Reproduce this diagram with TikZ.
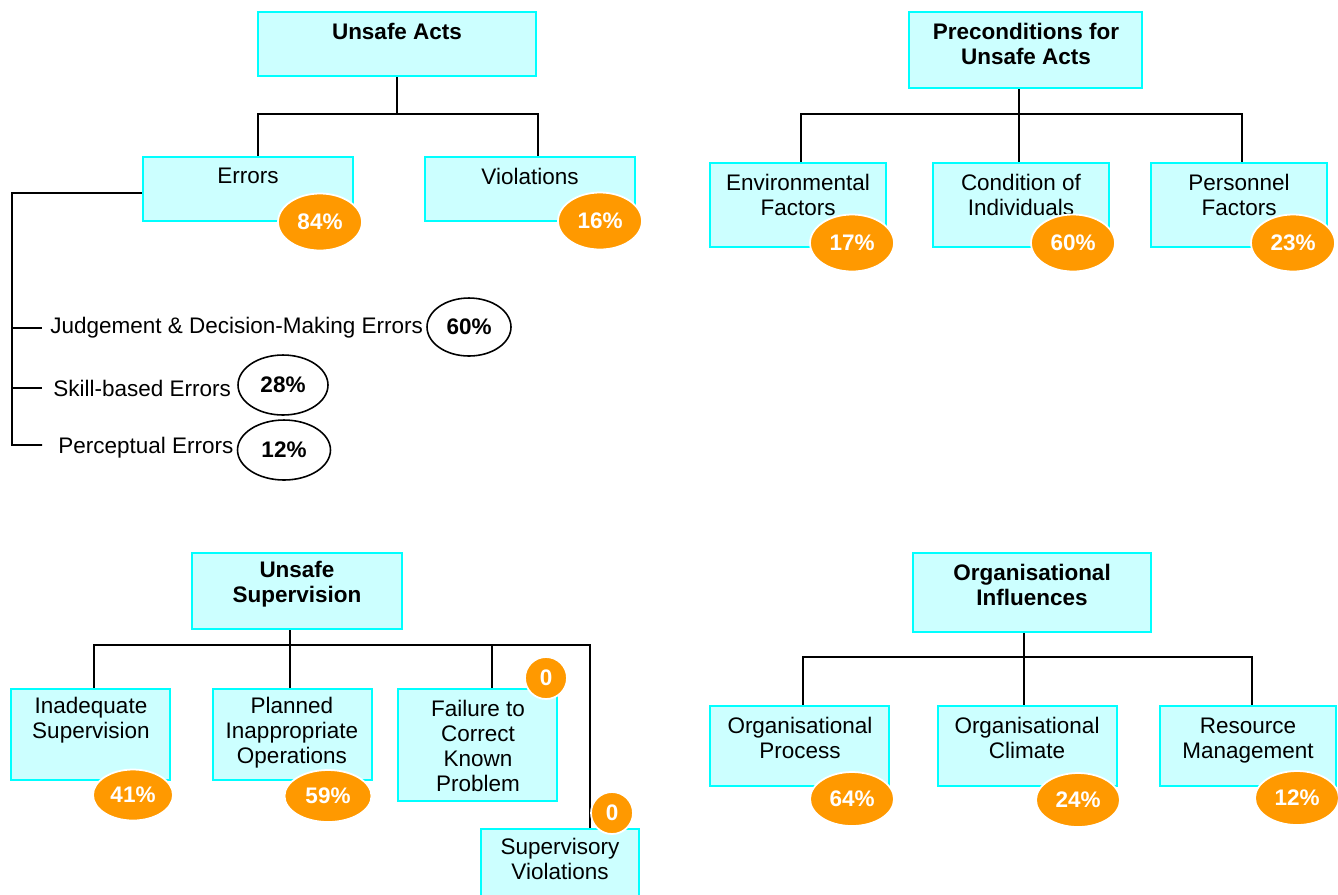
\documentclass[tikz,border=0pt]{standalone}
\usepackage{fontspec}
\setmainfont{Liberation Sans}
\usetikzlibrary{shapes.geometric,fit,positioning}
\definecolor{cfill}{HTML}{CCFFFF}
\definecolor{cline}{HTML}{00FFFF}
\definecolor{morange}{HTML}{FF9900}
\newcommand{\hfsz}{\fontsize{12.8}{14.2}\selectfont}
\tikzset{
  hbox/.style={draw=cline, fill=cfill, line width=1.2pt, inner sep=0pt},
  htext/.style={align=center, inner sep=0pt, font=\hfsz},
  htitle/.style={align=center, inner sep=0pt, font=\hfsz\bfseries},
  pct/.style={ellipse, fill=morange, draw=white, line width=1pt, text=white, inner sep=0pt,
    minimum width=1.68cm, minimum height=1.14cm, font=\hfsz\bfseries},
  zero/.style={circle, fill=morange, draw=white, line width=1pt, text=white, inner sep=0pt,
    minimum size=0.84cm, font=\hfsz\bfseries},
  wpct/.style={ellipse, draw=black, fill=white, line width=0.9pt, inner sep=0pt,
    minimum width=1.8cm, minimum height=1.2cm, font=\hfsz\bfseries},
  link/.style={line width=1.1pt}
}

\begin{document}
\begin{tikzpicture}[x=0.02cm, y=-0.02cm]
\useasboundingbox (0,0) rectangle (1338,894);
\clip (0,0) rectangle (1338,894);

  % Unsafe acts
\node[hbox, fit={(258,12) (536,76)}] (ua) {};
\node[htitle] (uaT) at (397,31) {Unsafe Acts};
\node[hbox, fit={(143,157) (353,221)}] (err) {};
\node[htext] (errT) at (248,176) {Errors};
\node[hbox, fit={(425,157) (635,221)}] (vio) {};
\node[htext] (vioT) at (530,176) {Violations};
\coordinate (uab) at (397,114);
\draw[link] (ua.south) -- (uab);
\draw[link] ([xshift=.2cm]err.north) |- (uab) -| ([xshift=.16cm]vio.north);
\node[pct] (errP) at (320,222) {84\%};
\node[pct] (vioP) at (600,221) {16\%};

% Error types
\node[htext, anchor=west] (jdm) at (50,328) {Judgement \& Decision-Making Errors};
\node[htext, anchor=west] (sbe) at (53,388) {Skill-based Errors};
\node[htext, anchor=west] (pce) at (58,448) {Perceptual Errors};
\node[wpct, minimum width=1.68cm, minimum height=1.16cm] (jdmP) at (469,327) {60\%};
\node[wpct] (sbeP) at (283,385) {28\%};
\node[wpct, minimum width=1.86cm] (pceP) at (284,450) {12\%};
\coordinate (ebar) at (12,193);
\draw[link] ([yshift=-.08cm]err.west) -- (ebar) -- (ebar |- 0,445) -- ++(30,0);
\foreach \n in {jdm,sbe}
  \draw[link] (ebar |- \n.west) -- ++(30,0);

% Preconditions
\node[hbox, fit={(909,12) (1142,88)}] (pre) {};
\node[htitle] (preT) at (1026,44) {Preconditions for\\Unsafe Acts};
\node[hbox, fit={(710,163) (886,247)}] (env) {};
\node[htext] (envT) at (798,195) {Environmental\\Factors};
\node[hbox, fit={(933,163) (1109,247)}] (cond) {};
\node[htext] (condT) at (1021,195) {Condition of\\Individuals};
\node[hbox, fit={(1151,163) (1327,247)}] (pers) {};
\node[htext] (persT) at (1239,195) {Personnel\\Factors};
\coordinate (preb) at (1019,114);
\draw[link] (pre.south -| preb) -- (cond.north -| preb);
\draw[link] ([xshift=.06cm]env.north) |- (preb) -| ([xshift=.06cm]pers.north);
\node[pct] (envP) at (852,243) {17\%};
\node[pct] (condP) at (1073,243) {60\%};
\node[pct] (persP) at (1293,243) {23\%};

% Unsafe supervision
\node[hbox, fit={(192,553) (402,629)}] (sup) {};
\node[htitle] (supT) at (297,584) {Unsafe\\Supervision};
\node[hbox, fit={(11,689) (170,780)}] (ina) {};
\node[htext] (inaT) at (91,720) {Inadequate\\Supervision};
\node[hbox, fit={(213,689) (372,780)}] (pla) {};
\node[htext] (plaT) at (292,733) {Planned\\Inappropriate\\Operations};
\node[hbox, fit={(398,689) (557,801)}] (fail) {};
\node[htext] (failT) at (478,746) {Failure to\\Correct\\Known\\Problem};
\node[hbox, fit={(481,829) (639,910)}] (sv) {};
\node[htext] (svT) at (560,859) {Supervisory\\Violations};
\coordinate (supb) at (290,645);
\draw[link] (sup.south -| supb) -- (pla.north -| supb);
\draw[link] ([xshift=.07cm]ina.north) |- (supb) -| ([xshift=.6cm]sv.north);
\draw[link] ([xshift=.29cm]fail.north) -- ([xshift=.29cm]fail.north |- supb);
\node[pct, minimum width=1.6cm, minimum height=1.02cm] (inaP) at (133,795) {41\%};
\node[pct, minimum width=1.74cm, minimum height=1.04cm] (plaP) at (328,796) {59\%};
\node[zero] (failP) at (546,678) {0};
\node[zero] (svP) at (612,813) {0};

% Organisational influences
\node[hbox, fit={(913,553) (1151,632)}] (org) {};
\node[htitle] (orgT) at (1032,585) {Organisational\\Influences};
\node[hbox, fit={(710,706) (889,786)}] (op) {};
\node[htext] (opT) at (800,738) {Organisational\\Process};
\node[hbox, fit={(938,706) (1117,786)}] (oc) {};
\node[htext] (ocT) at (1027,738) {Organisational\\Climate};
\node[hbox, fit={(1160,706) (1336,786)}] (rm) {};
\node[htext] (rmT) at (1248,741) {Resource\\Management};
\coordinate (orgb) at (1024,657);
\draw[link] (org.south -| orgb) -- (oc.north -| orgb);
\draw[link] ([xshift=.07cm]op.north) |- (orgb) -| ([xshift=.08cm]rm.north);
\node[pct, minimum height=1.08cm] (opP) at (852,799) {64\%};
\node[pct, minimum height=1.08cm] (ocP) at (1078,800) {24\%};
\node[pct, minimum height=1.08cm] (rmP) at (1297,798) {12\%};

\end{tikzpicture}
\end{document}
